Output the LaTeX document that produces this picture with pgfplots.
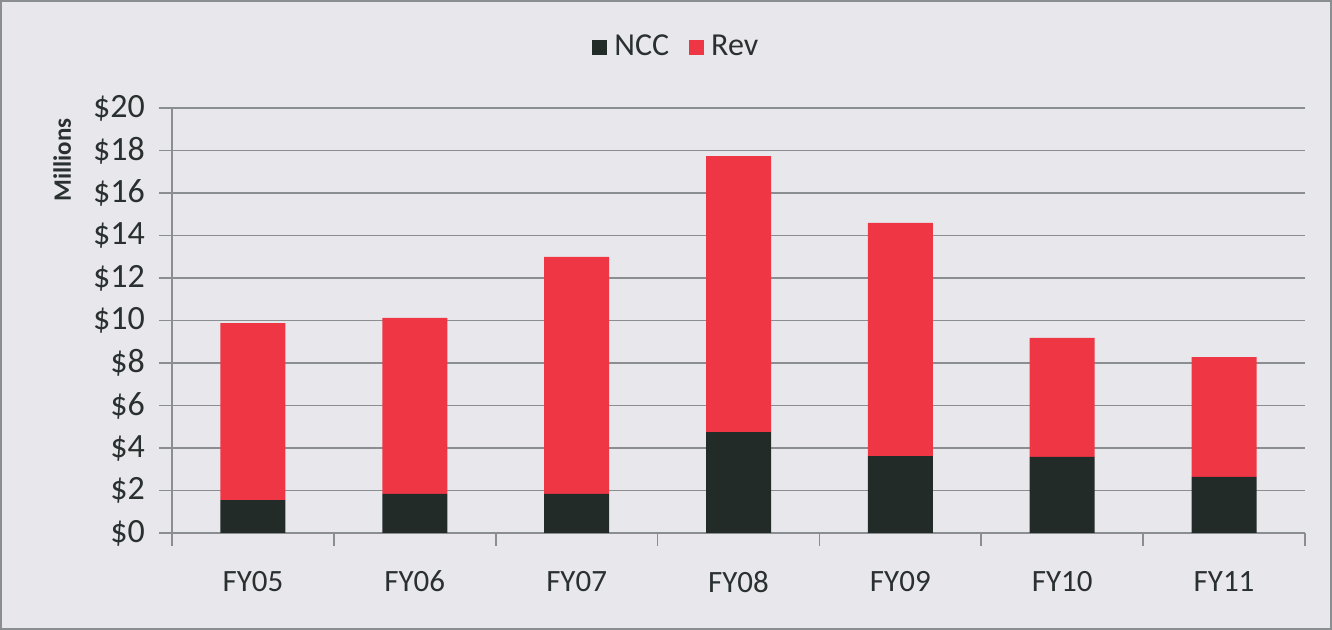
\documentclass[border=0pt]{standalone}
\usepackage{pgfplots}
\pgfplotsset{compat=1.18}
\usepackage{fontspec}
\setmainfont{Carlito}
\definecolor{bg}{HTML}{E8E8EC}
\definecolor{gridc}{HTML}{8A8E90}
\definecolor{ncc}{HTML}{222B28}
\definecolor{rev}{HTML}{EE3645}
\definecolor{txt}{HTML}{2A302F}
\begin{document}
\begin{tikzpicture}
\fill[bg] (-86pt,-48.5pt) rectangle (580pt,266.5pt);
\draw[gridc, line width=0.8pt] (-85.6pt,-48.1pt) rectangle (579.6pt,266.1pt);
\path[use as bounding box] (-86pt,-48.5pt) rectangle (580pt,266.5pt);
\begin{axis}[
  at={(0pt,0pt)}, anchor=south west,
  scale only axis,
  width=566.5pt, height=212.5pt,
  ybar stacked, bar width=32.5pt,
  xmin=-0.5, xmax=6.5, ymin=0, ymax=20,
  ytick={0,2,...,20},
  xtick={-0.5,0.5,...,6.5},
  xticklabels={},
  extra x ticks={0,...,6},
  extra x tick labels={FY05,FY06,FY07,FY08,FY09,FY10,FY11},
  extra x tick style={major tick length=0pt},
  major tick length=6.5pt,
  axis x line*=bottom, axis y line*=left,
  axis line style={gridc, line width=0.8pt, -},
  ymajorgrids, grid style={gridc, line width=0.8pt},
  yticklabel={\$\pgfmathprintnumber{\tick}},
  /pgf/number format/assume math mode=true,
  tick style={gridc, line width=0.8pt},
  tick align=outside,
  yticklabel style={font=\fontsize{17}{17}\selectfont, text=txt, xshift=-3.5pt},
  xticklabel style={font=\fontsize{15.5}{15.5}\selectfont, text=txt, yshift=-15.5pt},
  ylabel={\textbf{Millions}},
  ylabel style={font=\fontsize{12.5}{12.5}\selectfont, text=txt, at={(axis description cs:-0.097,0.878)}, anchor=center},
  legend columns=2,
  legend style={at={(axis description cs:0.446,1.1435)}, anchor=center, draw=none, fill=none,
    font=\fontsize{16}{16}\selectfont, text=txt,
    /tikz/every even column/.append style={column sep=8pt},
    /tikz/every odd column/.append style={column sep=1.5pt}},
  legend image code/.code={\fill[#1] (0pt,-4pt) rectangle (7.5pt,3.5pt);},
]
\addplot[fill=ncc, draw=none] coordinates {(0,1.55) (1,1.84) (2,1.84) (3,4.75) (4,3.62) (5,3.58) (6,2.64)};
\addplot[fill=rev, draw=none] coordinates {(0,8.33) (1,8.28) (2,11.15) (3,12.99) (4,10.97) (5,5.60) (6,5.64)};
\legend{NCC,Rev}
\end{axis}
\end{tikzpicture}
\end{document}
